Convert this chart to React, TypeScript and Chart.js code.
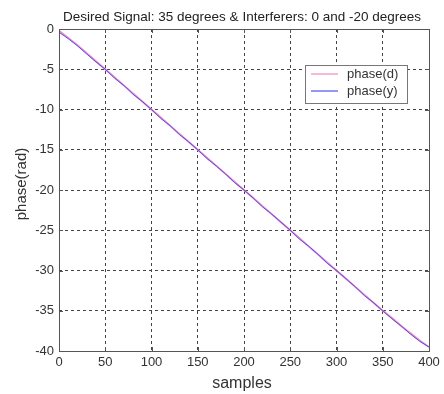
import { useEffect, useRef } from "react";
import { Chart, registerables } from "chart.js";

Chart.register(...registerables);

const chartTitle = "Desired Signal: 35 degrees & Interferers: 0 and -20 degrees";
const xTitle = "samples";
const yTitle = "phase(rad)";
const seriesLabels = ["phase(d)", "phase(y)"];

const samples = [
  0, 10, 20, 30, 40, 50, 60, 70, 80, 90, 100, 110, 120, 130, 140, 150, 160, 170, 180, 190, 200,
  210, 220, 230, 240, 250, 260, 270, 280, 290, 300, 310, 320, 330, 340, 350, 360, 370, 380, 390, 400,
];
const phaseD = [
  -0.2, -1.1, -2.0, -3.0, -4.0, -5.0, -6.0, -7.0, -8.0, -9.0, -10.0, -11.0, -12.0, -13.0, -14.0,
  -15.0, -16.0, -17.0, -18.0, -19.0, -20.0, -21.0, -22.0, -23.0, -24.0, -25.0, -26.0, -27.0, -28.0,
  -29.0, -30.0, -31.0, -32.0, -33.0, -34.0, -35.0, -35.9, -36.9, -37.8, -38.7, -39.5,
];
const phaseY = [
  -0.4, -1.2, -2.1, -3.1, -4.1, -5.0, -6.1, -7.0, -8.1, -9.0, -10.0, -11.1, -12.0, -13.1, -14.0,
  -15.0, -16.1, -17.0, -18.0, -19.1, -20.0, -21.0, -22.1, -23.0, -24.0, -25.0, -26.1, -27.0, -28.0,
  -29.1, -30.0, -31.0, -32.0, -33.1, -34.0, -35.0, -36.0, -36.9, -37.9, -38.8, -39.5,
];
const xTicks = [0, 50, 100, 150, 200, 250, 300, 350, 400];
const yTicks = [0, -5, -10, -15, -20, -25, -30, -35, -40];

const seriesColors = ["#f28ac0", "#5050f0"];

const FONT = "'Liberation Sans', Arial, Helvetica, sans-serif";

const decorPlugin = {
  id: "decor",
  afterDraw(chart: any) {
    const { ctx, chartArea } = chart;
    const { left, right, top, bottom } = chartArea;
    const xs = chart.scales.x;
    const ys = chart.scales.y;
    ctx.save();
    // box
    ctx.strokeStyle = "#555";
    ctx.lineWidth = 1;
    ctx.setLineDash([]);
    ctx.strokeRect(Math.round(left) + 0.5, Math.round(top) + 0.5, Math.round(right - left), Math.round(bottom - top));
    // inward ticks
    ctx.beginPath();
    xTicks.forEach((v) => {
      const px = Math.round(xs.getPixelForValue(v)) + 0.5;
      ctx.moveTo(px, bottom);
      ctx.lineTo(px, bottom - 4);
      ctx.moveTo(px, top);
      ctx.lineTo(px, top + 4);
    });
    yTicks.forEach((v) => {
      const py = Math.round(ys.getPixelForValue(v)) + 0.5;
      ctx.moveTo(left, py);
      ctx.lineTo(left + 4, py);
      ctx.moveTo(right, py);
      ctx.lineTo(right - 4, py);
    });
    ctx.stroke();

    // title
    ctx.fillStyle = "#222";
    ctx.textAlign = "center";
    ctx.textBaseline = "alphabetic";
    ctx.font = `13.5px ${FONT}`;
    ctx.fillText(chartTitle, 242, 21);

    // x title
    ctx.font = `16px ${FONT}`;
    ctx.fillStyle = "#333";
    ctx.fillText(xTitle, 242, 388);

    // y title
    ctx.save();
    ctx.translate(26, 184);
    ctx.rotate(-Math.PI / 2);
    ctx.font = `15px ${FONT}`;
    ctx.textBaseline = "alphabetic";
    ctx.fillText(yTitle, 0, 0);
    ctx.restore();

    // legend
    const bx = 305, by = 65, bw = 102, bh = 38;
    ctx.fillStyle = "#fff";
    ctx.fillRect(bx, by, bw, bh);
    ctx.strokeStyle = "#777";
    ctx.lineWidth = 1;
    ctx.strokeRect(bx + 0.5, by + 0.5, bw, bh);
    ctx.font = `13px ${FONT}`;
    ctx.textAlign = "left";
    ctx.textBaseline = "middle";
    const rowY = [74, 91];
    [0, 1].forEach((i) => {
      ctx.strokeStyle = seriesColors[i];
      ctx.lineWidth = 1.2;
      ctx.beginPath();
      ctx.moveTo(311, rowY[i]);
      ctx.lineTo(338, rowY[i]);
      ctx.stroke();
      ctx.fillStyle = "#333";
      ctx.fillText(seriesLabels[i], 347, rowY[i]);
    });
    ctx.restore();
  },
};

export default function App() {
  const ref = useRef<HTMLCanvasElement | null>(null);
  useEffect(() => {
    if (!ref.current) return;
    const mk = (ys: number[]) => samples.map((x, i) => ({ x, y: ys[i] }));
    const chart = new Chart(ref.current, {
      type: "line",
      data: {
        datasets: [
          {
            label: seriesLabels[1],
            data: mk(phaseY),
            borderColor: seriesColors[1],
            borderWidth: 1,
            pointRadius: 0,
            tension: 0,
          },
          {
            label: seriesLabels[0],
            data: mk(phaseD),
            borderColor: seriesColors[0],
            borderWidth: 1.8,
            pointRadius: 0,
            tension: 0,
          },
        ],
      },
      options: {
        animation: false,
        responsive: false,
        layout: { padding: { top: 29, right: 15, left: 0, bottom: 0 } },
        plugins: { legend: { display: false }, title: { display: false }, tooltip: { enabled: false } },
        scales: {
          x: {
            type: "linear",
            min: 0,
            max: 400,
            afterBuildTicks: (s: any) => {
              s.ticks = xTicks.map((v) => ({ value: v }));
            },
            afterFit: (s: any) => {
              s.height = 43;
            },
            ticks: { color: "#333", font: { family: FONT, size: 13 }, padding: 4, maxRotation: 0, autoSkip: false },
            grid: { color: "#444", lineWidth: 1, drawTicks: false },
            border: { display: false, dash: [3, 3] },
          },
          y: {
            type: "linear",
            min: -40,
            max: 0,
            afterBuildTicks: (s: any) => {
              s.ticks = yTicks.map((v) => ({ value: v }));
            },
            afterFit: (s: any) => {
              s.width = 59;
            },
            ticks: { color: "#333", font: { family: FONT, size: 13 }, padding: 5, autoSkip: false },
            grid: { color: "#444", lineWidth: 1, drawTicks: false },
            border: { display: false, dash: [3, 3] },
          },
        },
      },
      plugins: [decorPlugin],
    });
    return () => chart.destroy();
  }, []);
  return (
    <div style={{ position: "fixed", left: 0, top: 0, width: 444, height: 394, background: "#fff" }}>
      <canvas ref={ref} width={444} height={394} style={{ width: 444, height: 394 }} />
    </div>
  );
}
